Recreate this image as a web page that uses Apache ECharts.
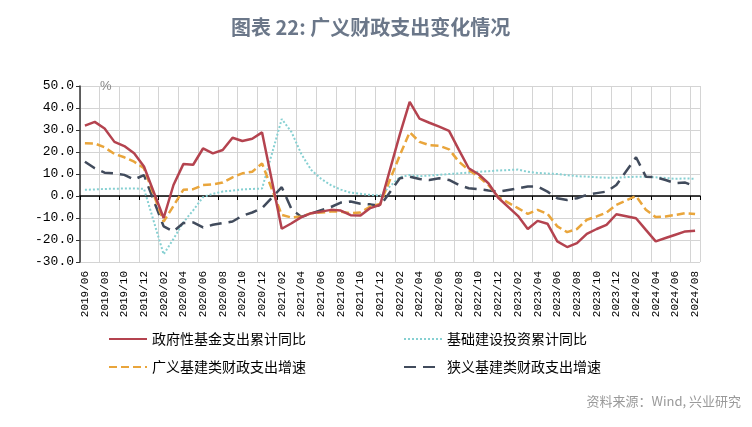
<!DOCTYPE html>
<html>
<head>
<meta charset="utf-8">
<title>广义财政支出变化情况</title>
<script src="https://cdn.jsdelivr.net/npm/echarts@6/dist/echarts.min.js"></script>
<style>
    html, body {margin: 0; padding: 0; background: #fff;}
    #main {width: 752px; height: 427px;}
</style>
</head>
<body>
<div id="main"></div>
<script>
// 横轴月份
var months = [
    '2019/06', '2019/07', '2019/08', '2019/09', '2019/10', '2019/11', '2019/12',
    '2020/01', '2020/02', '2020/03', '2020/04', '2020/05', '2020/06', '2020/07', '2020/08', '2020/09', '2020/10', '2020/11', '2020/12',
    '2021/01', '2021/02', '2021/03', '2021/04', '2021/05', '2021/06', '2021/07', '2021/08', '2021/09', '2021/10', '2021/11', '2021/12',
    '2022/01', '2022/02', '2022/03', '2022/04', '2022/05', '2022/06', '2022/07', '2022/08', '2022/09', '2022/10', '2022/11', '2022/12',
    '2023/01', '2023/02', '2023/03', '2023/04', '2023/05', '2023/06', '2023/07', '2023/08', '2023/09', '2023/10', '2023/11', '2023/12',
    '2024/01', '2024/02', '2024/03', '2024/04', '2024/05', '2024/06', '2024/07', '2024/08'
];

// 政府性基金支出累计同比
var govFund = [
    32.0, 33.7, 30.7, 24.6, 22.7, 19.4, 13.4,
    null, -10.0, 5.0, 14.5, 14.2, 21.6, 19.4, 20.9, 26.5, 25.0, 26.0, 28.9,
    null, -14.9, -12.4, -9.6, -7.8, -7.1, -6.3, -6.6, -8.7, -8.9, -5.5, -4.0,
    null, 28.0, 42.8, 35.2, 33.3, 31.5, 29.6, 21.0, 12.6, 9.9, 5.8, -0.8,
    null, -9.0, -15.0, -11.3, -12.6, -20.6, -23.2, -21.4, -17.2, -15.0, -13.1, -8.3,
    null, -10.1, -15.4, -20.6, -19.1, -17.6, -16.1, -15.8
];

// 基础建设投资累计同比
var infraInvest = [
    2.8, 3.0, 3.2, 3.3, 3.4, 3.4, 3.3,
    null, -26.5, -19.5, -12.0, -6.5, -0.5, 1.0, 2.0, 2.5, 3.0, 3.2, 3.4,
    null, 35.0, 29.0, 19.0, 11.8, 7.8, 4.9, 2.9, 1.5, 1.0, 0.5, 0.2,
    null, 8.6, 9.5, 9.0, 9.3, 9.6, 10.0, 10.3, 10.6, 11.0, 11.3, 11.6,
    null, 12.0, 11.0, 10.5, 10.2, 10.0, 9.5, 9.0, 8.8, 8.5, 8.3, 8.3,
    null, 8.8, 8.8, 8.5, 8.2, 7.8, 8.0, 7.8
];

// 广义基建类财政支出增速
var broadInfra = [
    24.0, 23.9, 22.1, 19.1, 17.6, 15.6, 12.6,
    null, -11.6, -4.5, 2.8, 3.1, 5.0, 5.3, 6.1, 8.5, 10.3, 11.0, 14.8,
    null, -8.6, -9.8, -9.3, -7.8, -7.5, -7.1, -7.1, -7.8, -7.5, -4.8, -3.6,
    null, 18.5, 29.0, 24.6, 23.1, 22.8, 21.2, 15.6, 11.8, 8.8, 5.0, -0.5,
    null, -5.5, -8.1, -6.3, -8.1, -13.8, -16.4, -15.0, -10.8, -9.3, -7.5, -4.0,
    null, 0.0, -6.3, -9.6, -9.3, -8.6, -7.8, -8.2
];

// 狭义基建类财政支出增速
var narrowInfra = [
    15.6, 12.6, 10.6, 10.3, 9.6, 7.5, 9.5,
    null, -13.8, -16.1, -12.3, -12.0, -14.3, -13.1, -12.3, -11.6, -9.0, -7.5, -5.5,
    null, 4.0, -6.0, -9.5, -8.0, -6.5, -5.0, -3.0, -2.5, -3.5, -3.8, -4.5,
    null, 8.1, 8.8, 7.7, 7.3, 8.1, 7.3, 5.0, 3.5, 3.1, 2.5, 2.0,
    null, 3.5, 4.3, 4.3, 2.0, -1.0, -1.8, -1.0, 0.5, 1.3, 2.0, 5.0,
    null, 17.6, 8.8, 8.5, 7.3, 5.8, 6.1, 4.3
];

var names = ['政府性基金支出累计同比', '基础建设投资累计同比', '广义基建类财政支出增速', '狭义基建类财政支出增速'];

var myChart = echarts.init(document.getElementById('main'));

var legendText = {fontSize: 14, color: '#000', fontFamily: 'Noto Sans CJK SC'};
// 图例只画线，不画圆点
var legendBase = {itemWidth: 38, itemHeight: 14, itemStyle: {opacity: 0}, textStyle: legendText};

var option = {
    backgroundColor: '#fff',
    animation: false,
    title: {
        text: '图表 22: 广义财政支出变化情况',
        left: 226,
        top: 12,
        textStyle: {fontSize: 20, fontWeight: 'bold', color: '#6b7789', fontFamily: 'Noto Sans CJK SC'}
    },
    grid: {left: 80, right: 52, top: 86, bottom: 165},
    legend: [
        Object.assign({data: [names[0]], left: 103, top: 327}, legendBase),
        Object.assign({data: [names[1]], left: 398, top: 327}, legendBase),
        Object.assign({data: [names[2]], left: 103, top: 355}, legendBase),
        Object.assign({data: [names[3]], left: 398, top: 355}, legendBase)
    ],
    xAxis: [
        {
            type: 'category',
            data: months,
            position: 'bottom',
            axisLine: {onZero: false, show: false},
            axisTick: {show: false},
            axisLabel: {
                interval: 1,
                rotate: 90,
                margin: 9,
                fontSize: 11,
                color: '#000',
                fontFamily: 'Liberation Mono'
            },
            splitLine: {show: true, interval: 1, lineStyle: {color: '#d4d4d4', width: 1}}
        },
        {
            type: 'category',
            data: months,
            position: 'bottom',
            axisLine: {onZero: true, lineStyle: {color: '#000', width: 1.5}},
            axisTick: {show: true, interval: 1, length: 4, lineStyle: {color: '#000'}},
            axisLabel: {show: false},
            splitLine: {show: false}
        }
    ],
    yAxis: {
        type: 'value',
        min: -30,
        max: 50,
        interval: 10,
        name: '%',
        nameGap: 0,
        nameTextStyle: {color: '#888', fontSize: 13, align: 'left', verticalAlign: 'middle', padding: [0, 0, 0, 20]},
        axisLine: {show: true, lineStyle: {color: '#333', width: 1.5}},
        axisTick: {show: true, length: 4, lineStyle: {color: '#333'}},
        axisLabel: {
            fontSize: 13,
            color: '#000',
            margin: 6,
            fontFamily: 'Liberation Mono',
            formatter: function (v) {
                return v.toFixed(1);
            }
        },
        splitLine: {show: true, lineStyle: {color: '#d4d4d4', width: 1}}
    },
    series: [
        {
            name: names[1],
            type: 'line',
            data: infraInvest,
            symbol: 'none',
            connectNulls: true,
            lineStyle: {color: '#86d0d2', width: 2, type: 'dotted'},
            itemStyle: {color: '#86d0d2'}
        },
        {
            name: names[3],
            type: 'line',
            data: narrowInfra,
            symbol: 'none',
            connectNulls: true,
            lineStyle: {color: '#414b5c', width: 2.5, type: [12, 7]},
            itemStyle: {color: '#414b5c'}
        },
        {
            name: names[2],
            type: 'line',
            data: broadInfra,
            symbol: 'none',
            connectNulls: true,
            lineStyle: {color: '#e9a53b', width: 2.5, type: [8, 4]},
            itemStyle: {color: '#e9a53b'}
        },
        {
            name: names[0],
            type: 'line',
            data: govFund,
            symbol: 'none',
            connectNulls: true,
            lineStyle: {color: '#b4434f', width: 2.5},
            itemStyle: {color: '#b4434f'}
        }
    ],
    graphic: [
        {
            type: 'text',
            right: 11,
            top: 395,
            style: {text: '资料来源：Wind, 兴业研究', fontSize: 13, fill: '#9a9a9a', fontFamily: 'Noto Sans CJK SC'}
        }
    ]
};

myChart.setOption(option);
</script>
</body>
</html>
